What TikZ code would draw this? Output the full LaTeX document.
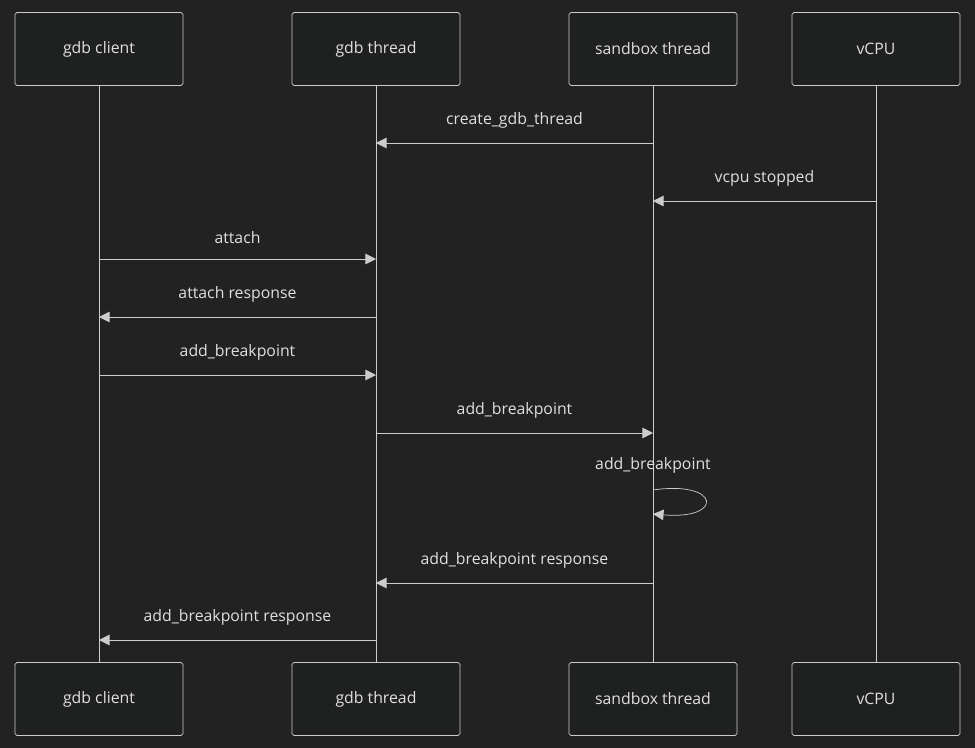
\documentclass[tikz,border=0pt]{standalone}
\usepackage{fontspec}
\setmainfont{Open Sans}
\usetikzlibrary{arrows.meta, positioning}
\definecolor{bgc}{HTML}{222222}
\definecolor{boxc}{HTML}{1F2020}
\definecolor{linec}{HTML}{CCCCCC}
\definecolor{textc}{HTML}{E0E0E0}
\begin{document}
\begin{tikzpicture}[x=0.02cm, y=-0.02cm, font=\fontsize{9}{11}\selectfont, text=textc]
    % Styles
    \tikzset{actor/.style={rectangle, draw=linec, fill=boxc, rounded corners=1pt, minimum width=3.36cm, minimum height=1.46cm},
             msg/.style={draw=linec, -{Triangle[length=6pt, width=6pt]}},
             lbl/.style={above=5pt}}
    \fill[bgc] (0,0) rectangle (975,748);
    \useasboundingbox (0,0) rectangle (975,748);
    % Actors
    \node[actor] (client) at (99,49) {gdb client};
    \node[actor] (thread) at (376,49) {gdb thread};
    \node[actor] (sandbox) at (653,49) {sandbox thread};
    \node[actor] (vcpu) at (876,49) {vCPU};
    \node[actor] (client2) at (99,699) {gdb client};
    \node[actor] (thread2) at (376,699) {gdb thread};
    \node[actor] (sandbox2) at (653,699) {sandbox thread};
    \node[actor] (vcpu2) at (876,699) {vCPU};
    % Lifelines
    \foreach \a in {client, thread, sandbox, vcpu}
        \draw[linec] (\a.south) -- (\a2.north);
    % Messages
    \coordinate (s1) at (653,143); \coordinate (t1) at (376,143);
    \draw[msg] (s1) -- node[lbl] {create\_gdb\_thread} (t1);
    \coordinate (v2) at (876,201); \coordinate (s2) at (653,201);
    \draw[msg] (v2) -- node[lbl] {vcpu stopped} (s2);
    \coordinate (c3) at (99,259); \coordinate (t3) at (376,259);
    \draw[msg] (c3) -- node[lbl] {attach} (t3);
    \coordinate (t4) at (376,317); \coordinate (c4) at (99,317);
    \draw[msg] (t4) -- node[lbl] {attach response} (c4);
    \coordinate (c5) at (99,375); \coordinate (t5) at (376,375);
    \draw[msg] (c5) -- node[lbl] {add\_breakpoint} (t5);
    \coordinate (t6) at (376,433); \coordinate (s6) at (653,433);
    \draw[msg] (t6) -- node[lbl] {add\_breakpoint} (s6);
    \coordinate (s7a) at (653,490); \coordinate (s7b) at (653,514);
    \draw[msg] (s7a) .. controls (720,480) and (725,520) .. (s7b);
    \node[above=6pt of s7a] (self) {add\_breakpoint};
    \coordinate (s8) at (653,583); \coordinate (t8) at (376,583);
    \draw[msg] (s8) -- node[lbl] {add\_breakpoint response} (t8);
    \coordinate (t9) at (376,640); \coordinate (c9) at (99,640);
    \draw[msg] (t9) -- node[lbl] {add\_breakpoint response} (c9);
\end{tikzpicture}
\end{document}
